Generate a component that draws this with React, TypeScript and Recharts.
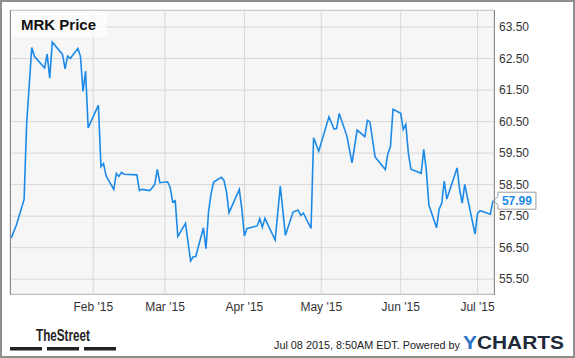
import { LineChart, Line, XAxis, YAxis, CartesianGrid, LabelList } from "recharts";

const FONT = "'Liberation Sans', Arial, sans-serif";
const BLUE = "#1d8ae8";

const dates = [
  "2014-12-31", "2015-01-02", "2015-01-05", "2015-01-06", "2015-01-08", "2015-01-09",
  "2015-01-13", "2015-01-14", "2015-01-15", "2015-01-16", "2015-01-20", "2015-01-21",
  "2015-01-22", "2015-01-23", "2015-01-26", "2015-01-27", "2015-01-28", "2015-01-29",
  "2015-01-30", "2015-02-03", "2015-02-04", "2015-02-05", "2015-02-06", "2015-02-09",
  "2015-02-10", "2015-02-11", "2015-02-12", "2015-02-13", "2015-02-18", "2015-02-19",
  "2015-02-20", "2015-02-23", "2015-02-24", "2015-02-25", "2015-02-26", "2015-02-27",
  "2015-03-02", "2015-03-03", "2015-03-04", "2015-03-05", "2015-03-06", "2015-03-09",
  "2015-03-11", "2015-03-12", "2015-03-13", "2015-03-16", "2015-03-17", "2015-03-18",
  "2015-03-19", "2015-03-20", "2015-03-23", "2015-03-24", "2015-03-25", "2015-03-26",
  "2015-03-30", "2015-03-31", "2015-04-01", "2015-04-02", "2015-04-06", "2015-04-07",
  "2015-04-08", "2015-04-09", "2015-04-13", "2015-04-15", "2015-04-17", "2015-04-20",
  "2015-04-21", "2015-04-22", "2015-04-23", "2015-04-24", "2015-04-27", "2015-04-28",
  "2015-04-30", "2015-05-04", "2015-05-06", "2015-05-07", "2015-05-08", "2015-05-11",
  "2015-05-13", "2015-05-15", "2015-05-18", "2015-05-19", "2015-05-20", "2015-05-22",
  "2015-05-26", "2015-05-27", "2015-05-28", "2015-05-29", "2015-06-01", "2015-06-02",
  "2015-06-03", "2015-06-04", "2015-06-05", "2015-06-09", "2015-06-10", "2015-06-11",
  "2015-06-12", "2015-06-15", "2015-06-16", "2015-06-17", "2015-06-18", "2015-06-19",
  "2015-06-23", "2015-06-24", "2015-06-25", "2015-06-26", "2015-06-30", "2015-07-01",
  "2015-07-02", "2015-07-06", "2015-07-07",
];

const prices = [
  56.81, 57.22, 58.03, 60.44, 62.85, 62.57,
  62.2, 62.64, 61.88, 63.02, 62.63, 62.17,
  62.58, 62.5, 62.82, 62.57, 61.46, 62.1,
  60.3, 61.02, 59.07, 59.17, 58.78, 58.35,
  58.86, 58.76, 58.89, 58.83, 58.81, 58.31,
  58.35, 58.31, 58.4, 58.51, 58.98, 58.56,
  58.59, 58.41, 57.95, 57.99, 56.86, 57.27,
  56.08, 56.21, 56.22, 57.13, 56.47, 57.64,
  58.22, 58.58, 58.73, 58.64, 58.27, 57.61,
  58.35, 57.72, 56.87, 57.11, 57.19, 57.42,
  57.15, 57.43, 56.74, 58.45, 56.89, 57.63,
  57.66, 57.69, 57.52, 57.6, 57.11, 59.99,
  59.56, 60.65, 60.26, 60.28, 60.76, 60.04,
  59.19, 60.23, 60.02, 60.54, 60.49, 59.38,
  58.98, 59.49, 59.7, 60.89, 60.76, 60.25,
  60.41, 59.49, 58.99, 58.86, 59.62, 58.96,
  57.85, 57.13, 57.72, 57.91, 58.61, 58.04,
  59.03, 58.35, 57.91, 58.51, 56.93, 57.59,
  57.67, 57.56, 57.99,
];

const monthTicks = ["2015-02-01", "2015-03-01", "2015-04-01", "2015-05-01", "2015-06-01", "2015-07-01"];
const monthLabels = ["Feb '15", "Mar '15", "Apr '15", "May '15", "Jun '15", "Jul '15"];
const priceTicks = [55.5, 56.5, 57.5, 58.5, 59.5, 60.5, 61.5, 62.5, 63.5];

const data = dates.map((d, i) => ({ t: Date.parse(d), price: prices[i] }));
const xTicks = monthTicks.map((d) => Date.parse(d));
const xDomain = [Date.UTC(2014, 11, 30, 12), Date.UTC(2015, 6, 7, 10)];

function monthLabel(v: number) {
  const i = xTicks.indexOf(v);
  return i >= 0 ? monthLabels[i] : "";
}

function LastValue(props: any) {
  const { x, y, index, value } = props;
  if (index !== data.length - 1) return null;
  const bx = x + 5;
  return (
    <g>
      <path
        d={`M${x + 0.5},${y} L${bx},${y - 4} L${bx},${y - 8.5} L${bx + 38},${y - 8.5} L${bx + 38},${y + 8.5} L${bx},${y + 8.5} L${bx},${y + 4} Z`}
        fill="#fff"
        stroke="#9c9c9c"
      />
      <text x={bx + 19} y={y + 4.5} textAnchor="middle" fill={BLUE} fontWeight="bold" fontSize={12} fontFamily={FONT}>
        {Number(value).toFixed(2)}
      </text>
    </g>
  );
}

export default function App() {
  return (
    <div style={{ position: "absolute", left: 0, top: 0, width: 575, height: 358, background: "#fff" }}>
      <LineChart width={575} height={358} data={data} margin={{ top: 10, right: 21, bottom: 34, left: 10 }}>
        <CartesianGrid stroke="#d7d7d7" fill="#f6f6f6" />
        <XAxis
          dataKey="t"
          type="number"
          domain={xDomain}
          allowDataOverflow
          ticks={xTicks}
          interval={0}
          tickFormatter={monthLabel}
          axisLine={false}
          tickLine={false}
          tickSize={0}
          tickMargin={8}
          height={30}
          tick={{ fill: "#333", fontSize: 12, fontFamily: FONT }}
        />
        <YAxis
          orientation="right"
          type="number"
          domain={[55.03, 64.04]}
          allowDataOverflow
          ticks={priceTicks}
          interval={0}
          tickFormatter={(v: number) => v.toFixed(2)}
          axisLine={false}
          tickLine={false}
          tickSize={0}
          tickMargin={5}
          width={60}
          tick={{ fill: "#333", fontSize: 12, fontFamily: FONT }}
        />
        <Line type="linear" dataKey="price" stroke={BLUE} strokeWidth={1.6} dot={false} isAnimationActive={false}>
          <LabelList dataKey="price" content={LastValue} />
        </Line>
      </LineChart>
      <svg width={575} height={358} style={{ position: "absolute", left: 0, top: 0, pointerEvents: "none" }}>
        <line x1={10} y1={10.5} x2={494} y2={10.5} stroke="#cfcfcf" />
        <line x1={10} y1={294.5} x2={494} y2={294.5} stroke="#bdbdbd" />
        <line x1={10.5} y1={10} x2={10.5} y2={295} stroke="#8a8a8a" />
        <line x1={494.5} y1={10} x2={494.5} y2={295} stroke="#8a8a8a" />
        <rect x={11} y={11} width={96} height={26} fill="#fff" fillOpacity={0.7} />
        <text x={21} y={30} fontFamily={FONT} fontWeight="bold" fontSize={15} fill="#111">MRK Price</text>
        <text x={36} y={341} fontFamily={"'Liberation Sans Narrow', " + FONT} fontWeight="bold" fontSize={17} fill="#222" textLength={54} lengthAdjust="spacingAndGlyphs">TheStreet</text>
        <rect x={10} y={347} width={32} height={3.5} fill="#222" />
        <rect x={47} y={347} width={32} height={3.5} fill="#222" />
        <rect x={84} y={347} width={32} height={3.5} fill="#222" />
        <text x={274} y={349} fontFamily={FONT} fontSize={11} fill="#222" textLength={186} lengthAdjust="spacingAndGlyphs">Jul 08 2015, 8:50AM EDT.  Powered by</text>
        <text x={463} y={349} fontFamily={FONT} fontWeight="bold" fontSize={19} fill="#1e2a38" textLength={101} lengthAdjust="spacingAndGlyphs">
          <tspan fill="#2d73c4">Y</tspan>CHARTS
        </text>
        <rect x={1} y={1} width={573} height={356} fill="none" stroke="#8e8e8e" strokeWidth={2} />
      </svg>
    </div>
  );
}
